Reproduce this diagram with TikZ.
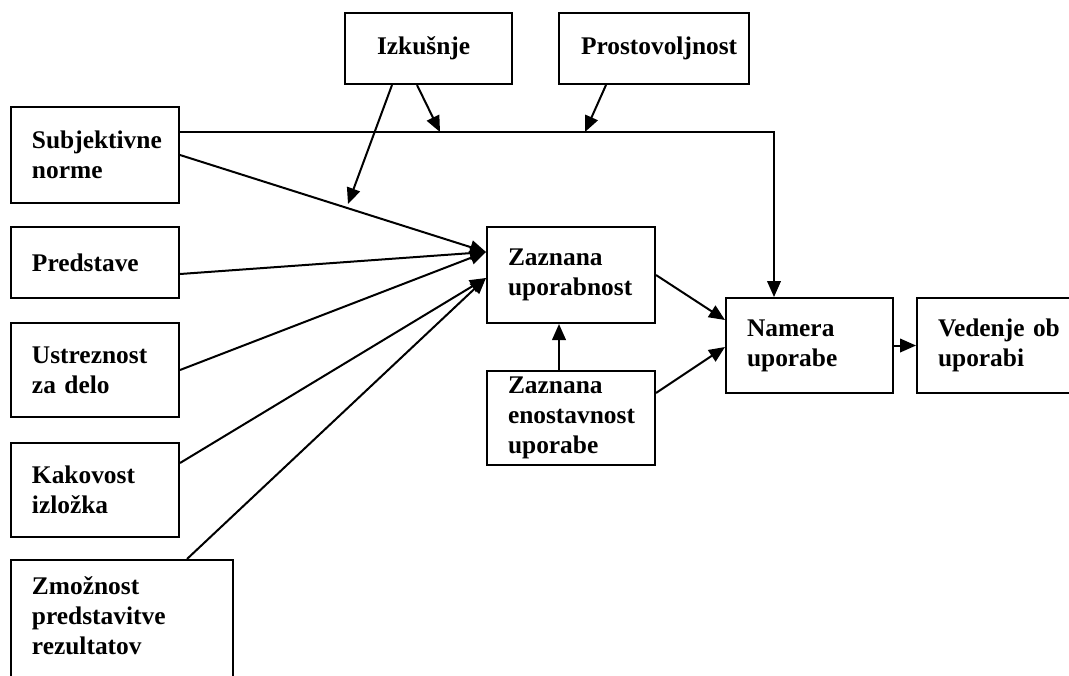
\documentclass[tikz,border=0pt]{standalone}
\usepackage{fontspec}
\setmainfont{Liberation Serif}
\usetikzlibrary{arrows.meta,calc}

\begin{document}
\begin{tikzpicture}[x=0.5pt,y=-0.5pt,
  box/.style={draw, line width=1pt, inner ysep=0pt, inner xsep=10.5pt,
    align=left, font=\fontsize{12.7}{15}\selectfont\bfseries, fill=white},
  link/.style={line width=1pt, -{Triangle[length=8pt,width=6.8pt]}}]
  \fill[white] (0,0) rectangle (1069,675);
  \useasboundingbox (0,0) rectangle (1069,675);
  \clip (0,0) rectangle (1069,675);

  % moderators on top
  \node[box, inner xsep=16pt, minimum height=35.5pt, text width=51.5pt] (izk) at (428.5,48.5) {Izkušnje};
  \node[box, inner xsep=11pt, minimum height=35.5pt, text width=73pt] (pro) at (654,48.5) {Prostovoljnost};

  % external factors on the left
  \node[box, minimum height=48pt, text width=63pt] (subj) at (95,155) {Subjektivne\\norme};
  \node[box, minimum height=35.5pt, text width=63pt] (pred) at (95,262.5) {Predstave};
  \node[box, minimum height=47pt, text width=63pt] (ustr) at (95,370) {Ustreznost\\za delo};
  \node[box, minimum height=47pt, text width=63pt] (kak) at (95,490) {Kakovost\\izložka};
  \node[box, minimum height=70pt, text width=90pt] (zmo) at (122,630) {Zmožnost\\predstavitve\\rezultatov\\[-1pt]\mbox{}};

  % core constructs
  \node[box, minimum height=48pt, text width=63pt] (zu) at (571,275) {Zaznana\\uporabnost};
  \node[box, minimum height=47pt, text width=63pt] (ze) at (571,418) {Zaznana\\enostavnost\\uporabe};
  \node[box, minimum height=47.5pt, text width=62.5pt] (nam) at (809.5,345.5) {Namera\\uporabe};
  \node[box, minimum height=47.5pt, text width=60.5pt] (ved) at (998.5,345.5) {Vedenje~ob\\uporabi};

  % arrow tips on the moderated paths
  \coordinate (m1) at (348,204);
  \coordinate (m2) at (440,132);
  \coordinate (m3) at (585,132);

  % inputs to perceived usefulness
  \draw[link] (subj.east) -- ([yshift=11.5pt]zu.west);
  \draw[link] ([yshift=-5.75pt]pred.east) -- ([yshift=11.5pt]zu.west);
  \draw[link] (ustr.east) -- ([yshift=11.5pt]zu.west);
  \draw[link] ([yshift=13.5pt]kak.east) -- ([yshift=-1.5pt]zu.west);
  \draw[link] ([xshift=32.5pt]zmo.north) -- ([yshift=-1.5pt]zu.west);

  % subjective norm straight to intention
  \draw[link] ([yshift=11.5pt]subj.east) -| ([xshift=-17.75pt]nam.north);

  % moderating effects
  \draw[link] ([xshift=-18.25pt]izk.south) -- (m1);
  \draw[link] ([xshift=-5.75pt]izk.south) -- (m2);
  \draw[link] ([xshift=-24pt]pro.south) -- (m3);

  % core model
  \draw[link] ([xshift=-6pt]ze.north) -- ([xshift=-6pt]zu.south);
  \draw[link] (zu.east) -- ([yshift=12.75pt]nam.west);
  \draw[link] ([yshift=12.5pt]ze.east) -- ([yshift=-0.75pt]nam.west);
  \draw[link] (nam.east) -- (ved.west);
\end{tikzpicture}
\end{document}
